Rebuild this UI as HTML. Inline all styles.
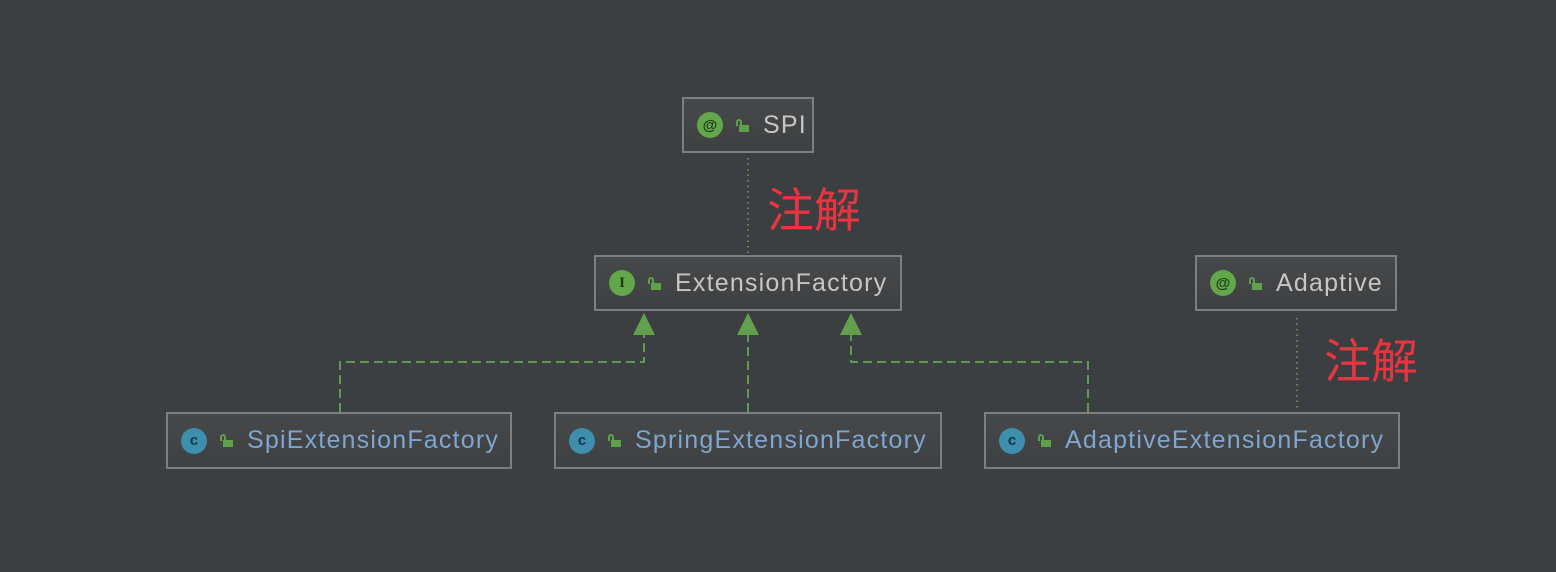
<!DOCTYPE html>
<html><head><meta charset="utf-8"><style>
body{margin:0;width:1556px;height:572px;background:#3c3f41;position:relative;overflow:hidden;font-family:"Liberation Sans","Noto Sans CJK SC",sans-serif}
.b{position:absolute;box-sizing:border-box;border:2px solid #7d7f80;background:linear-gradient(#46484a,#3e4042);display:flex;align-items:center;font-size:25px;letter-spacing:1.2px;color:#c6c6c6;white-space:nowrap}
.ic{width:26px;height:26px;border-radius:50%;margin-left:13px;display:flex;align-items:center;justify-content:center;font-size:15px;font-weight:bold;flex:none;letter-spacing:0}
.g{background:#62a84a;color:#1f3a18}
.c{background:#3e8fae;color:#13354a}
.lk{width:12px;height:13px;margin:0 15px 0 13px;position:relative;flex:none}
.lk:before{content:"";position:absolute;left:0;top:0;width:6px;height:7px;border:2px solid #5fa04a;border-bottom:none;border-radius:3px 3px 0 0;box-sizing:border-box}
.lk:after{content:"";position:absolute;left:3px;top:6px;width:10px;height:7px;background:#5fa04a}
.bl{color:#7ea6d0}
.r{position:absolute;color:#e8353f;font-size:47px;line-height:1}
</style></head><body>
<svg width="1556" height="572" style="position:absolute;left:0;top:0">
<g stroke="#5f9a4e" stroke-width="2" fill="none" stroke-dasharray="9,5">
<path d="M340 412 V362 H644 V334"/>
<path d="M748 412 V334"/>
<path d="M1088 412 V362 H851 V334"/>
</g>
<g fill="#62a04e">
<polygon points="644,313 633,335 655,335"/>
<polygon points="748,313 737,335 759,335"/>
<polygon points="851,313 840,335 862,335"/>
</g>
<g stroke="#7f9a5a" stroke-width="1.5" stroke-dasharray="1.5,4">
<path d="M748 158 V253"/>
<path d="M1297 318 V408"/>
</g>
</svg>
<div class="b" style="left:682px;top:97px;width:132px;height:56px"><div class="ic g">@</div><div class="lk"></div>SPI</div>
<div class="b" style="left:594px;top:255px;width:308px;height:56px"><div class="ic g" style="font-family:'Liberation Serif',serif">I</div><div class="lk"></div>ExtensionFactory</div>
<div class="b" style="left:1195px;top:255px;width:202px;height:56px"><div class="ic g">@</div><div class="lk"></div>Adaptive</div>
<div class="b" style="left:166px;top:412px;width:346px;height:57px"><div class="ic c">c</div><div class="lk"></div><span class="bl">SpiExtensionFactory</span></div>
<div class="b" style="left:554px;top:412px;width:388px;height:57px"><div class="ic c">c</div><div class="lk"></div><span class="bl">SpringExtensionFactory</span></div>
<div class="b" style="left:984px;top:412px;width:416px;height:57px"><div class="ic c">c</div><div class="lk"></div><span class="bl">AdaptiveExtensionFactory</span></div>
<div class="r" style="left:767px;top:187px">注解</div>
<div class="r" style="left:1324px;top:338px">注解</div>
</body></html>
